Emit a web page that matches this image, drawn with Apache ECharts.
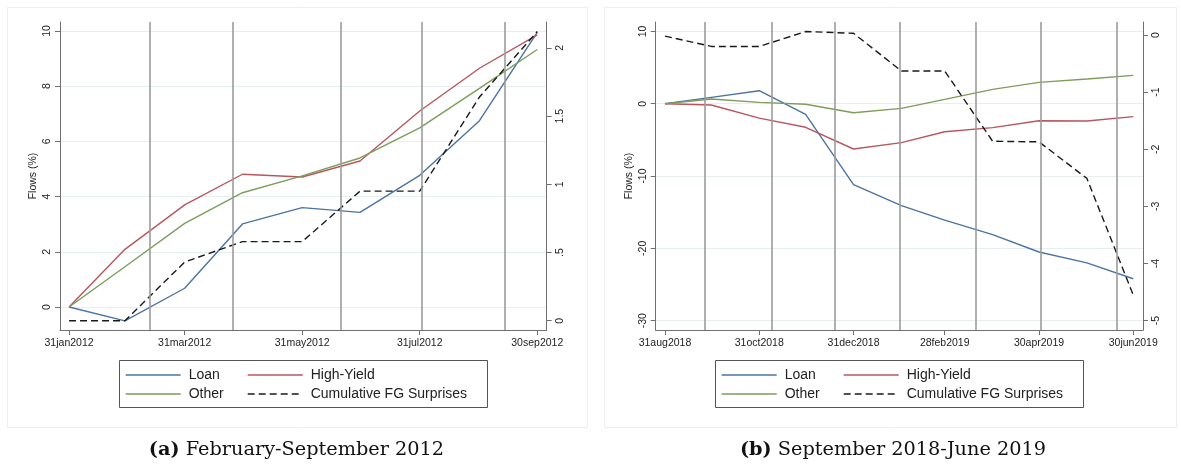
<!DOCTYPE html>
<html><head><meta charset="utf-8">
<script src="https://cdn.jsdelivr.net/npm/echarts@6/dist/echarts.min.js"></script>
<style>html,body{margin:0;padding:0;background:#fff}#c{width:1181px;height:464px}</style>
</head><body><div id="c"></div>
<script>
// ---------- Panel (a): February-September 2012 ----------
const datesA = ['2012-01-31','2012-02-29','2012-03-31','2012-04-30','2012-05-31','2012-06-30','2012-07-31','2012-08-31','2012-09-30'];
const loanA  = [0, -0.5, 0.68, 3.01, 3.6, 3.43, 4.77, 6.75, 9.95];
const hyA    = [0, 2.09, 3.70, 4.81, 4.71, 5.29, 7.10, 8.65, 9.86];
const otherA = [0, 1.46, 3.03, 4.14, 4.75, 5.40, 6.49, 7.92, 9.33];
const fgA    = [0, 0, 0.43, 0.58, 0.58, 0.95, 0.95, 1.64, 2.12];
const fomcA  = ['2012-03-13','2012-04-25','2012-06-20','2012-08-01','2012-09-13'];
const xTicksA = ['2012-01-31','2012-03-31','2012-05-31','2012-07-31','2012-09-30'];
const yTicksA = [0, 2, 4, 6, 8, 10];
const y2TicksA = [0, 0.5, 1, 1.5, 2];

// ---------- Panel (b): September 2018-June 2019 ----------
const datesB = ['2018-08-31','2018-09-30','2018-10-31','2018-11-30','2018-12-31','2019-01-31','2019-02-28','2019-03-31','2019-04-30','2019-05-31','2019-06-30'];
const loanB  = [0, 0.88, 1.8, -1.47, -11.2, -14.1, -16.1, -18.1, -20.5, -22.0, -24.2];
const hyB    = [0, -0.18, -2.0, -3.26, -6.26, -5.38, -3.87, -3.31, -2.35, -2.39, -1.79];
const otherB = [0, 0.65, 0.19, -0.08, -1.24, -0.64, 0.6, 1.98, 2.95, 3.41, 3.92];
const fgB    = [-0.02, -0.2, -0.2, 0.06, 0.03, -0.63, -0.63, -1.86, -1.87, -2.51, -4.55];
const fomcB  = ['2018-09-26','2018-11-08','2018-12-19','2019-01-30','2019-03-20','2019-05-01','2019-06-19'];
const xTicksB = ['2018-08-31','2018-10-31','2018-12-31','2019-02-28','2019-04-30','2019-06-30'];
const yTicksB = [-30, -20, -10, 0, 10];
const y2TicksB = [-5, -4, -3, -2, -1, 0];

const seriesNames = ['Loan', 'High-Yield', 'Other', 'Cumulative FG Surprises'];
const captions = ['February-September 2012', 'September 2018-June 2019'];

const DAY = 86400000;
function ts(s){ const p = s.split('-'); return Date.UTC(+p[0], +p[1]-1, +p[2]); }
const MON = ['jan','feb','mar','apr','may','jun','jul','aug','sep','oct','nov','dec'];
function fmtDate(v){ const d = new Date(v); return String(d.getUTCDate()).padStart(2,'0') + MON[d.getUTCMonth()] + d.getUTCFullYear(); }
function pairs(dates, vals){ return dates.map((d,i)=>[ts(d), vals[i]]); }

const C_LOAN = '#4b74a0', C_HY = '#b8565f', C_OTH = '#7d9d5b', C_FG = '#1a1a1a';
const AX = '#707070';
const FONT = 'Liberation Sans';
const FS = 10.5;

function xAxis(grid, ticks, min, max){
  const cv = ticks.map(ts);
  return {
    type: 'value', gridIndex: grid, min: min, max: max,
    axisLine: {show: true, onZero: false, lineStyle: {color: AX, width: 1}},
    axisTick: {show: true, length: 5, lineStyle: {color: AX}, customValues: cv},
    axisLabel: {show: true, customValues: cv, formatter: fmtDate, fontSize: FS, fontFamily: FONT, color: '#222', margin: 8},
    splitLine: {show: false}
  };
}
function yAxis(grid, pos, ticks, min, max, fmt, grid_lines, name){
  return {
    type: 'value', gridIndex: grid, position: pos, min: min, max: max,
    name: name || '', nameLocation: 'middle', nameGap: 21,
    nameTextStyle: {fontSize: FS, fontFamily: FONT, color: '#222'},
    axisLine: {show: true, onZero: false, lineStyle: {color: AX, width: 1}},
    axisTick: {show: true, length: 5, lineStyle: {color: AX}, customValues: ticks},
    axisLabel: {show: true, customValues: ticks, rotate: 90, formatter: fmt, fontSize: FS, fontFamily: FONT, color: '#222', margin: pos === 'left' ? 7 : 8},
    splitLine: {show: grid_lines, lineStyle: {color: '#e6eef0', width: 1}}
  };
}
const fmtPlain = v => String(v);
const fmtDot = v => v === 0 ? '0' : String(v).replace(/^0\./, '.');

function lineSeries(name, xi, yi, data, color, dashed, z){
  return {
    name: name, type: 'line', xAxisIndex: xi, yAxisIndex: yi, data: data,
    symbol: 'none', showSymbol: false, smooth: false, z: z || 3,
    lineStyle: {color: color, width: 1.4, type: dashed ? [7, 4] : 'solid'},
    itemStyle: {color: color}
  };
}
function fomcSeries(xi, yi, dates){
  return {
    name: 'fomc', type: 'line', xAxisIndex: xi, yAxisIndex: yi, data: [], z: 1, silent: true,
    markLine: {silent: true, symbol: ['none','none'], label: {show: false},
      lineStyle: {color: '#9c9c9c', width: 1.6, type: 'solid'},
      data: dates.map(d => ({xAxis: ts(d)}))}
  };
}

const xMinA = ts(datesA[0]) - 4.7*DAY, xMaxA = ts(datesA[datesA.length-1]) + 4.9*DAY;
const xMinB = ts(datesB[0]) - 6.0*DAY, xMaxB = ts(datesB[datesB.length-1]) + 6.3*DAY;

function legendCol(left, names){
  return {
    show: true, orient: 'vertical', left: left, top: 368, data: names, padding: 0,
    itemWidth: 55, itemHeight: 14, itemGap: 5, selectedMode: false,
    itemStyle: {opacity: 0, borderWidth: 0},
    lineStyle: {width: 1.4},
    textStyle: {fontSize: 14, fontFamily: FONT, color: '#222', padding: [0,0,0,3]}
  };
}

const chart = echarts.init(document.getElementById('c'), null, {renderer: 'canvas'});
chart.setOption({
  animation: false,
  backgroundColor: '#fff',
  grid: [
    {left: 60, right: 634.3, top: 22, bottom: 134, containLabel: false},
    {left: 655.7, right: 38, top: 22, bottom: 134, containLabel: false}
  ],
  xAxis: [ xAxis(0, xTicksA, xMinA, xMaxA), xAxis(1, xTicksB, xMinB, xMaxB) ],
  yAxis: [
    yAxis(0, 'left', yTicksA, -0.833, 10.326, fmtPlain, true, 'Flows (%)'),
    yAxis(0, 'right', y2TicksA, -0.068, 2.19, fmtDot, false),
    yAxis(1, 'left', yTicksB, -31.29, 11.3, fmtPlain, true, 'Flows (%)'),
    yAxis(1, 'right', y2TicksB, -5.163, 0.2275, fmtPlain, false)
  ],
  legend: [
    legendCol(125, [seriesNames[0], seriesNames[2]]),
    legendCol(247, [seriesNames[1], seriesNames[3]]),
    legendCol(721, [seriesNames[0], seriesNames[2]]),
    legendCol(843, [seriesNames[1], seriesNames[3]])
  ],
  series: [
    fomcSeries(0, 0, fomcA),
    lineSeries(seriesNames[0], 0, 0, pairs(datesA, loanA), C_LOAN),
    lineSeries(seriesNames[1], 0, 0, pairs(datesA, hyA), C_HY),
    lineSeries(seriesNames[2], 0, 0, pairs(datesA, otherA), C_OTH),
    lineSeries(seriesNames[3], 0, 1, pairs(datesA, fgA), C_FG, true),
    fomcSeries(1, 2, fomcB),
    lineSeries(seriesNames[0], 1, 2, pairs(datesB, loanB), C_LOAN),
    lineSeries(seriesNames[1], 1, 2, pairs(datesB, hyB), C_HY),
    lineSeries(seriesNames[2], 1, 2, pairs(datesB, otherB), C_OTH),
    lineSeries(seriesNames[3], 1, 3, pairs(datesB, fgB), C_FG, true)
  ],
  graphic: [
    {type: 'rect', silent: true, z: -1, shape: {x: 7.5, y: 7.5, width: 580, height: 420}, style: {fill: 'none', stroke: '#eeeeee', lineWidth: 1}},
    {type: 'rect', silent: true, z: -1, shape: {x: 604.5, y: 7.5, width: 572, height: 420}, style: {fill: 'none', stroke: '#eeeeee', lineWidth: 1}},
    {type: 'rect', silent: true, shape: {x: 119.5, y: 360.5, width: 368, height: 47}, style: {fill: 'none', stroke: '#555', lineWidth: 1}},
    {type: 'rect', silent: true, shape: {x: 715.5, y: 360.5, width: 368, height: 47}, style: {fill: 'none', stroke: '#555', lineWidth: 1}},
    {type: 'text', silent: true, style: {text: '{b|(a)} ' + captions[0], x: 296.5, y: 450, align: 'center', verticalAlign: 'middle',
      fontSize: 19.3, fontFamily: 'DejaVu Serif', fill: '#111', rich: {b: {fontWeight: 'bold', fontSize: 19.3, fontFamily: 'DejaVu Serif', fill: '#111'}}}},
    {type: 'text', silent: true, style: {text: '{b|(b)} ' + captions[1], x: 893, y: 450, align: 'center', verticalAlign: 'middle',
      fontSize: 19.3, fontFamily: 'DejaVu Serif', fill: '#111', rich: {b: {fontWeight: 'bold', fontSize: 19.3, fontFamily: 'DejaVu Serif', fill: '#111'}}}}
  ]
});
</script>
</body></html>
